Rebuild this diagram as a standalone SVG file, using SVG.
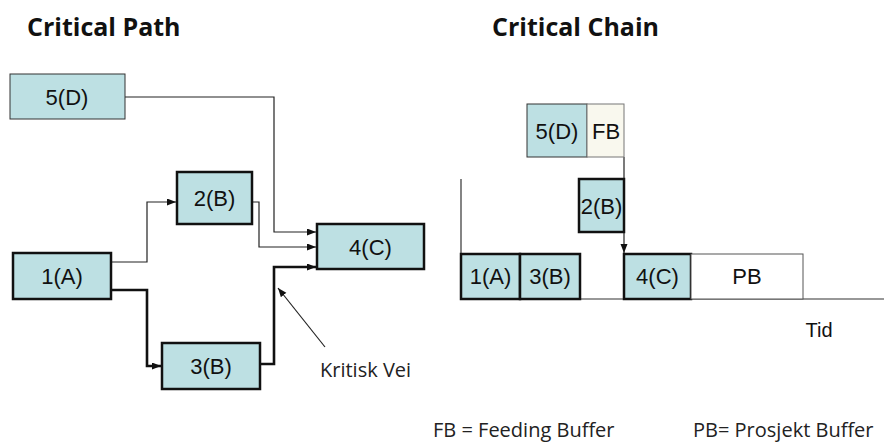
<svg xmlns="http://www.w3.org/2000/svg" width="884" height="445" viewBox="0 0 884 445">
  <defs>
    <marker id="arrow" markerUnits="userSpaceOnUse" markerWidth="10" markerHeight="8" refX="9" refY="3.5" orient="auto">
      <path d="M0,0 L9,3.5 L0,7 z" fill="#111"/>
    </marker>
    <style>
      .title { font-family: "Open Sans", "Liberation Sans", sans-serif; font-weight: bold; font-size: 25px; fill: #111; }
      .note { font-family: "Open Sans", "Liberation Sans", sans-serif; font-size: 20px; fill: #222; }
      .lbl { font-family: "Liberation Sans", Arial, sans-serif; font-size: 22px; fill: #111; text-anchor: middle; }
      .task { fill: #bde0e3; stroke: #111; stroke-width: 2.5; }
      .task-thin { fill: #bde0e3; stroke: #333; stroke-width: 1; }
      .buffer { fill: #f9f8ee; stroke: #777; stroke-width: 1; }
      .pbuffer { fill: #ffffff; stroke: #555; stroke-width: 1; }
      .thin { fill: none; stroke: #222; stroke-width: 1.2; }
      .thick { fill: none; stroke: #111; stroke-width: 2.6; }
      .axis { fill: none; stroke: #333; stroke-width: 1.2; }
    </style>
  </defs>

  <rect width="884" height="445" fill="#ffffff"/>

  <!-- headings -->
  <text class="title" x="27" y="36">Critical Path</text>
  <text class="title" x="492" y="36">Critical Chain</text>

  <!-- network diagram: connectors -->
  <g id="connectors">
    <path class="thin" d="M111,262 H147 V202 H176" marker-end="url(#arrow)"/>
    <path class="thin" d="M252,202 H259 V247 H316" marker-end="url(#arrow)"/>
    <path class="thin" d="M125,97 H274 V232 H316" marker-end="url(#arrow)"/>
    <path class="thick" d="M111,290 H147 V366 H161" marker-end="url(#arrow)"/>
    <path class="thick" d="M260,364 H274 V267 H316" marker-end="url(#arrow)"/>
    <path class="thin" d="M325,347 L278,288" marker-end="url(#arrow)"/>
    <!-- chain: time axis, start marker and feeding link -->
    <path class="axis" d="M461,299 H884"/>
    <path class="axis" d="M461,179 V299"/>
    <path class="thin" d="M624,157 V253" marker-end="url(#arrow)"/>
  </g>

  <!-- network diagram: activities -->
  <g id="cp-5D">
    <rect class="task-thin" x="10" y="74" width="115" height="45"/>
    <text class="lbl" x="67" y="105">5(D)</text>
  </g>
  <g id="cp-2B">
    <rect class="task" x="177" y="172" width="75" height="52"/>
    <text class="lbl" x="214.5" y="206">2(B)</text>
  </g>
  <g id="cp-4C">
    <rect class="task" x="317" y="224" width="107" height="45"/>
    <text class="lbl" x="370.5" y="255">4(C)</text>
  </g>
  <g id="cp-1A">
    <rect class="task" x="13" y="253" width="98" height="46"/>
    <text class="lbl" x="62" y="284">1(A)</text>
  </g>
  <g id="cp-3B">
    <rect class="task" x="162" y="343" width="98" height="46"/>
    <text class="lbl" x="211" y="374">3(B)</text>
  </g>
  <text class="note" x="320" y="377">Kritisk Vei</text>

  <!-- chain schedule -->
  <g id="cc-5D">
    <rect class="task-thin" x="527" y="104" width="60" height="53"/>
    <text class="lbl" x="557" y="139">5(D)</text>
  </g>
  <g id="cc-FB">
    <rect class="buffer" x="587" y="104" width="37" height="53"/>
    <text class="lbl" x="606" y="139">FB</text>
  </g>
  <g id="cc-2B">
    <rect class="task" x="579" y="179" width="45" height="53"/>
    <text class="lbl" x="601.5" y="214">2(B)</text>
  </g>
  <g id="cc-1A">
    <rect class="task" x="461" y="254" width="59" height="45"/>
    <text class="lbl" x="490.5" y="284">1(A)</text>
  </g>
  <g id="cc-3B">
    <rect class="task" x="520" y="254" width="60" height="45"/>
    <text class="lbl" x="550" y="284">3(B)</text>
  </g>
  <g id="cc-4C">
    <rect class="task" x="624" y="254" width="67" height="45"/>
    <text class="lbl" x="657.5" y="284">4(C)</text>
  </g>
  <g id="cc-PB">
    <rect class="pbuffer" x="691" y="254" width="112" height="45"/>
    <text class="lbl" x="747" y="284">PB</text>
  </g>
  <text class="lbl" x="819" y="337" style="font-size:20px">Tid</text>

  <!-- legend -->
  <text class="note" x="433" y="437">FB = Feeding Buffer</text>
  <text class="note" x="693" y="437">PB= Prosjekt Buffer</text>
</svg>
